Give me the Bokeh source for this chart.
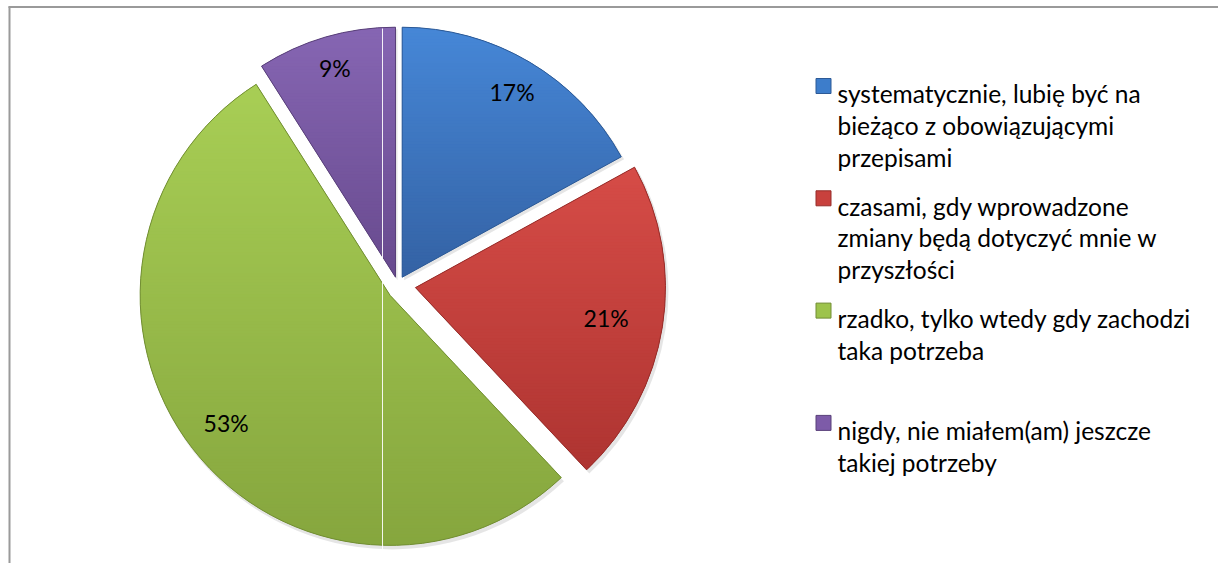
import math
from bokeh.plotting import figure
from bokeh.models import Range1d, ColumnDataSource
from bokeh.embed import file_html
from bokeh.resources import INLINE
from bokeh.core.properties import value

# ---------------- data ----------------
categories = [
    "systematycznie, lubię być na bieżąco z obowiązującymi przepisami",
    "czasami, gdy wprowadzone zmiany będą dotyczyć mnie w przyszłości",
    "rzadko, tylko wtedy gdy zachodzi taka potrzeba",
    "nigdy, nie miałem(am) jeszcze takiej potrzeby",
]
percent = [17, 21, 53, 9]
legend_lines = [
    ["systematycznie, lubię być na", "bieżąco z obowiązującymi", "przepisami"],
    ["czasami, gdy wprowadzone", "zmiany będą dotyczyć mnie w", "przyszłości"],
    ["rzadko, tylko wtedy gdy zachodzi", "taka potrzeba"],
    ["nigdy, nie miałem(am) jeszcze", "takiej potrzeby"],
]
colors = ["#3D7DCB", "#C8413D", "#9DC34C", "#7D5BA8"]
top_colors = ["#4687D7", "#D64C47", "#A8CE55", "#8666B3"]
bottom_colors = ["#3462A4", "#AE3431", "#86A63E", "#684A8E"]
edge_colors = ["#2D5A96", "#962D2A", "#728E34", "#594079"]

# ---------------- layout ----------------
W, H = 1218, 563
FONT = "Lato"


def X(px):
    return px


def Y(py):
    return H - py


CX, CY = X(397.2), Y(284.3)        # pie centre
R = 250.0                           # radius
explode = [8.8, 18.0, 14.0, 7.9]    # per-slice explosion (px)
nudge = [(0, 0), (0, 0), (3.5, -2.0), (0, 0)]
label_frac = [0.863, 0.772, 0.83, 0.87]


def hex2rgb(h):
    h = h.lstrip("#")
    return tuple(int(h[k:k + 2], 16) for k in (0, 2, 4))


def mix(c1, c2, t):
    a, b = hex2rgb(c1), hex2rgb(c2)
    return "#%02x%02x%02x" % tuple(int(round(a[k] + (b[k] - a[k]) * t)) for k in range(3))


def clip_band(poly, y0, y1):
    def clip(pts, keep, yy):
        out = []
        n = len(pts)
        for k in range(n):
            cur, prev = pts[k], pts[k - 1]
            kc, kp = keep(cur), keep(prev)
            if kc:
                if not kp:
                    t = (yy - prev[1]) / (cur[1] - prev[1])
                    out.append((prev[0] + (cur[0] - prev[0]) * t, yy))
                out.append(cur)
            elif kp:
                t = (yy - prev[1]) / (cur[1] - prev[1])
                out.append((prev[0] + (cur[0] - prev[0]) * t, yy))
        return out
    pts = clip(poly, lambda q: q[1] >= y0, y0)
    if not pts:
        return []
    return clip(pts, lambda q: q[1] <= y1, y1)


p = figure(width=W, height=H, output_backend="svg", toolbar_location=None,
           x_range=Range1d(0, W), y_range=Range1d(0, H),
           min_border=0, x_axis_location=None, y_axis_location=None)
p.grid.visible = False
p.outline_line_color = None
p.background_fill_color = "white"
p.border_fill_color = "white"

total = sum(percent)
cum = 0.0
wx, wy, sa, ea, lx, ly, labels = [], [], [], [], [], [], []
bx, by, bc = [], [], []
for i, v in enumerate(percent):
    t1 = cum / total * 2 * math.pi
    t2 = (cum + v) / total * 2 * math.pi
    cum += v
    tm = (t1 + t2) / 2
    ux, uy = math.sin(tm), math.cos(tm)   # data-space unit vector (y up)
    cx = CX + explode[i] * ux + nudge[i][0]
    cy = CY + explode[i] * uy + nudge[i][1]
    wx.append(cx)
    wy.append(cy)
    sa.append(math.pi / 2 - t2)
    ea.append(math.pi / 2 - t1)
    lx.append(cx + label_frac[i] * R * ux)
    ly.append(cy + label_frac[i] * R * uy)
    labels.append(f"{v}%")
    # polygon of slice for gradient bands
    n = max(8, int(v * 4))
    poly = [(cx, cy)]
    for k in range(n + 1):
        t = t1 + (t2 - t1) * k / n
        poly.append((cx + R * math.sin(t), cy + R * math.cos(t)))
    ytop = max(q[1] for q in poly)
    ybot = min(q[1] for q in poly)
    step = 3.0
    yy = ytop
    while yy > ybot:
        y1 = yy
        y0 = max(ybot, yy - step)
        piece = clip_band(poly, y0 - 0.8, y1)
        if len(piece) >= 3:
            tfrac = (ytop - (y0 + y1) / 2) / (ytop - ybot)
            bx.append([q[0] for q in piece])
            by.append([q[1] for q in piece])
            bc.append(mix(top_colors[i], bottom_colors[i], tfrac))
        yy -= step

src = ColumnDataSource(dict(x=wx, y=wy, sa=sa, ea=ea, color=colors,
                            edge=edge_colors, lx=lx, ly=ly, label=labels,
                            sx=[x + 2 for x in wx], sy=[y - 3 for y in wy]))

# soft shadow
p.wedge(x="sx", y="sy", radius=R + 1, start_angle="sa", end_angle="ea",
        fill_color="#000000", fill_alpha=0.10, line_color=None, source=src)
# slices: base fill, gradient bands, outline
p.wedge(x="x", y="y", radius=R, start_angle="sa", end_angle="ea",
        fill_color="color", line_color=None, source=src)
p.patches(xs=bx, ys=by, fill_color=bc, line_color=None)
p.wedge(x="x", y="y", radius=R, start_angle="sa", end_angle="ea",
        fill_color=None, line_color="edge", line_width=1, source=src)

# thin white artefact line seen in the original
p.segment(x0=[X(382)], y0=[Y(28)], x1=[X(382)], y1=[Y(553)],
          line_color="white", line_width=1, line_alpha=0.9)

# percentage labels
p.text(x="lx", y="ly", text="label", source=src, text_align="center",
       text_baseline="middle", text_font=value(FONT), text_font_size="23px",
       text_color="black")

# ---------------- legend ----------------
leg_x_marker = X(823)
leg_x_text = X(837)
first_base = 93.3
entry_step = 112.3
line_step = 31.7
mx, my, tx, ty, tt = [], [], [], [], []
for i, lines in enumerate(legend_lines):
    b0 = first_base + entry_step * i
    mx.append(leg_x_marker)
    my.append(Y(b0 - 7.8))
    for j, s in enumerate(lines):
        tx.append(leg_x_text)
        ty.append(Y(b0 + line_step * j))
        tt.append(s)

p.rect(x=mx, y=my, width=15, height=15, fill_color=colors,
       line_color=edge_colors, line_width=1)
p.text(x=tx, y=ty, text=tt, text_align="left", text_baseline="alphabetic",
       text_font=value(FONT), text_font_size="24.5px", text_color="black")

# chart-area border (top and left visible)
p.segment(x0=[X(8)], y0=[Y(6.5)], x1=[X(W)], y1=[Y(6.5)],
          line_color="#9a9a9a", line_width=2)
p.segment(x0=[X(9)], y0=[Y(6)], x1=[X(9)], y1=[Y(H)],
          line_color="#9a9a9a", line_width=2)

open("out.html", "w").write(file_html(p, INLINE))
